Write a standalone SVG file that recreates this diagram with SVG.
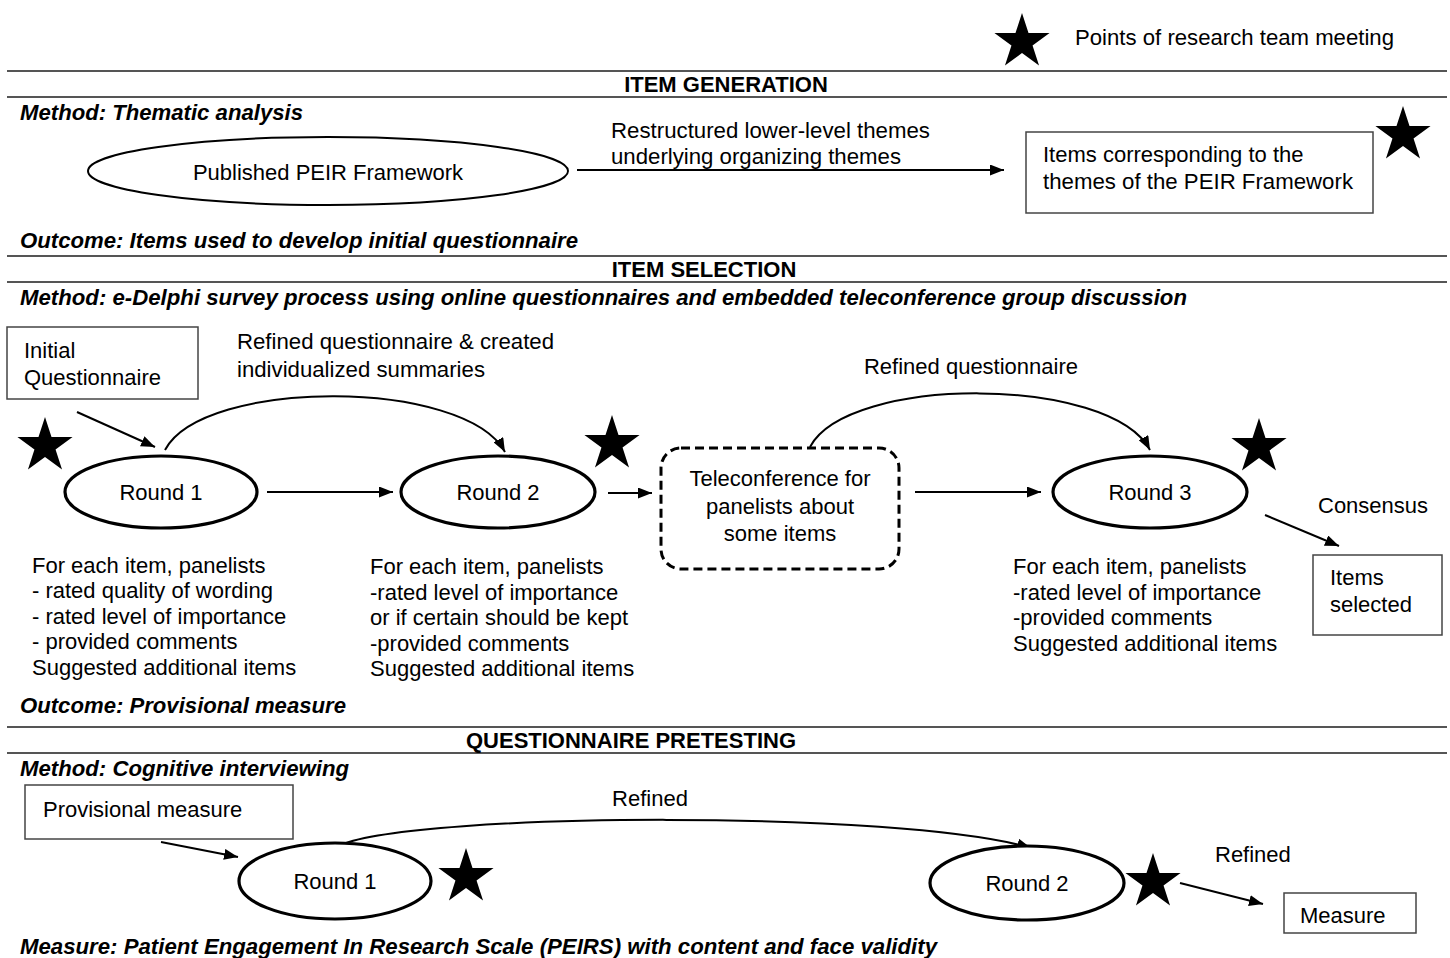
<svg xmlns="http://www.w3.org/2000/svg" width="1450" height="958" viewBox="0 0 1450 958">
<defs>
<style>
text{font-family:"Liberation Sans",Arial,sans-serif;font-size:22px;fill:#000}
.h{font-weight:bold}
.bi{font-weight:bold;font-style:italic}
.c{text-anchor:middle}
.rule{stroke:#555;stroke-width:2;fill:none}
.box{fill:#fff;stroke:#444;stroke-width:1.5}
.ell{fill:#fff;stroke:#000;stroke-width:3.2}
.ell2{fill:#fff;stroke:#000;stroke-width:2}
.con{fill:none;stroke:#000;stroke-width:2}
</style>
<marker id="ah" viewBox="0 0 14 11" refX="14" refY="5.5" markerWidth="14" markerHeight="11" markerUnits="userSpaceOnUse" orient="auto">
<path d="M0,0 L14,5.5 L0,11 Z" fill="#000"/>
</marker>
<path id="star" d="M0,-29 L6.51,-8.96 L27.58,-8.96 L10.54,3.42 L17.05,23.46 L0,11.08 L-17.05,23.46 L-10.54,3.42 L-27.58,-8.96 L-6.51,-8.96 Z" fill="#000"/>
</defs>
<rect width="1450" height="958" fill="#fff"/>

<g id="legend">
<use href="#star" transform="translate(1022,42)"/>
<text x="1075" y="45" textLength="319" lengthAdjust="spacingAndGlyphs">Points of research team meeting</text>
</g>

<g id="rules">
<line class="rule" x1="7" y1="71" x2="1447" y2="71"/>
<line class="rule" x1="7" y1="97" x2="1447" y2="97"/>
<line class="rule" x1="7" y1="256" x2="1447" y2="256"/>
<line class="rule" x1="7" y1="282" x2="1447" y2="282"/>
<line class="rule" x1="7" y1="727" x2="1447" y2="727"/>
<line class="rule" x1="7" y1="753" x2="1447" y2="753"/>
</g>

<g id="section-labels">
<text class="h c" x="726" y="92">ITEM GENERATION</text>
<text class="bi" x="20" y="120" textLength="283" lengthAdjust="spacingAndGlyphs">Method: Thematic analysis</text>
<text class="bi" x="20" y="248" textLength="558" lengthAdjust="spacingAndGlyphs">Outcome: Items used to develop initial questionnaire</text>
<text class="h c" x="704" y="277">ITEM SELECTION</text>
<text class="bi" x="20" y="305" textLength="1167" lengthAdjust="spacingAndGlyphs">Method: e-Delphi survey process using online questionnaires and embedded teleconference group discussion</text>
<text class="bi" x="20" y="713" textLength="326" lengthAdjust="spacingAndGlyphs">Outcome: Provisional measure</text>
<text class="h c" x="631" y="748">QUESTIONNAIRE PRETESTING</text>
<text class="bi" x="20" y="776" textLength="329" lengthAdjust="spacingAndGlyphs">Method: Cognitive interviewing</text>
<text class="bi" x="20" y="954" textLength="917" lengthAdjust="spacingAndGlyphs">Measure: Patient Engagement In Research Scale (PEIRS) with content and face validity</text>
</g>

<g id="connectors">
<line class="con" x1="577" y1="170" x2="1004" y2="170" marker-end="url(#ah)"/>
<line class="con" x1="77" y1="412" x2="155" y2="447" marker-end="url(#ah)"/>
<path class="con" d="M165,450 C203,378 465,378 505,452" marker-end="url(#ah)"/>
<line class="con" x1="267" y1="492" x2="393" y2="492" marker-end="url(#ah)"/>
<line class="con" x1="608" y1="493" x2="652" y2="493" marker-end="url(#ah)"/>
<path class="con" d="M810,447 C848,375 1110,375 1150,450" marker-end="url(#ah)"/>
<line class="con" x1="915" y1="492" x2="1041" y2="492" marker-end="url(#ah)"/>
<line class="con" x1="1265" y1="515" x2="1339" y2="546" marker-end="url(#ah)"/>
<line class="con" x1="161" y1="842" x2="238" y2="857" marker-end="url(#ah)"/>
<path class="con" d="M340,845 C420,812 900,810 1031,848" marker-end="url(#ah)"/>
<line class="con" x1="1180" y1="883" x2="1263" y2="904" marker-end="url(#ah)"/>
</g>

<g id="conn-labels">
<text x="611" y="138" textLength="319" lengthAdjust="spacingAndGlyphs">Restructured lower-level themes</text>
<text x="611" y="164" textLength="290" lengthAdjust="spacingAndGlyphs">underlying organizing themes</text>
<text x="237" y="349" textLength="317" lengthAdjust="spacingAndGlyphs">Refined questionnaire &amp; created</text>
<text x="237" y="377" textLength="248" lengthAdjust="spacingAndGlyphs">individualized summaries</text>
<text class="c" x="971" y="374">Refined questionnaire</text>
<text x="1318" y="513">Consensus</text>
<text class="c" x="650" y="806">Refined</text>
<text x="1215" y="862">Refined</text>
</g>

<g id="peir-framework">
<ellipse class="ell2" cx="328" cy="171" rx="240" ry="34"/>
<text class="c" x="328" y="180">Published PEIR Framework</text>
</g>

<g id="items-corresponding">
<rect class="box" x="1026" y="132" width="347" height="81"/>
<text x="1043" y="162">Items corresponding to the</text>
<text x="1043" y="189" textLength="310" lengthAdjust="spacingAndGlyphs">themes of the PEIR Framework</text>
<use href="#star" transform="translate(1403,135)"/>
</g>

<g id="initial-questionnaire">
<rect class="box" x="7" y="327" width="191" height="72"/>
<text x="24" y="358">Initial</text>
<text x="24" y="385">Questionnaire</text>
<use href="#star" transform="translate(45,446)"/>
</g>

<g id="round1">
<ellipse class="ell" cx="161" cy="492" rx="96" ry="36"/>
<text class="c" x="161" y="500">Round 1</text>
<text x="32" y="573">For each item, panelists</text>
<text x="32" y="598">- rated quality of wording</text>
<text x="32" y="624">- rated level of importance</text>
<text x="32" y="649">- provided comments</text>
<text x="32" y="675">Suggested additional items</text>
</g>

<g id="round2">
<ellipse class="ell" cx="498" cy="492" rx="97" ry="36"/>
<text class="c" x="498" y="500">Round 2</text>
<use href="#star" transform="translate(612,444)"/>
<text x="370" y="574">For each item, panelists</text>
<text x="370" y="600">-rated level of importance</text>
<text x="370" y="625">or if certain should be kept</text>
<text x="370" y="651">-provided comments</text>
<text x="370" y="676">Suggested additional items</text>
</g>

<g id="teleconference">
<rect x="661" y="448" width="238" height="121" rx="20" fill="#fff" stroke="#000" stroke-width="3" stroke-dasharray="9,5"/>
<text class="c" x="780" y="486">Teleconference for</text>
<text class="c" x="780" y="514">panelists about</text>
<text class="c" x="780" y="541">some items</text>
</g>

<g id="round3">
<ellipse class="ell" cx="1150" cy="492" rx="97" ry="36"/>
<text class="c" x="1150" y="500">Round 3</text>
<use href="#star" transform="translate(1259,447)"/>
<text x="1013" y="574">For each item, panelists</text>
<text x="1013" y="600">-rated level of importance</text>
<text x="1013" y="625">-provided comments</text>
<text x="1013" y="651">Suggested additional items</text>
</g>

<g id="items-selected">
<rect class="box" x="1313" y="555" width="129" height="80"/>
<text x="1330" y="585">Items</text>
<text x="1330" y="612">selected</text>
</g>

<g id="provisional-measure">
<rect class="box" x="25" y="785" width="268" height="54"/>
<text x="43" y="817">Provisional measure</text>
</g>

<g id="pretest-round1">
<ellipse class="ell" cx="335" cy="881" rx="96" ry="38"/>
<text class="c" x="335" y="889">Round 1</text>
<use href="#star" transform="translate(466,877)"/>
</g>

<g id="pretest-round2">
<ellipse class="ell" cx="1027" cy="883" rx="97" ry="37"/>
<text class="c" x="1027" y="891">Round 2</text>
<use href="#star" transform="translate(1153,882)"/>
</g>

<g id="measure">
<rect class="box" x="1284" y="893" width="132" height="40"/>
<text x="1300" y="923">Measure</text>
</g>
</svg>
